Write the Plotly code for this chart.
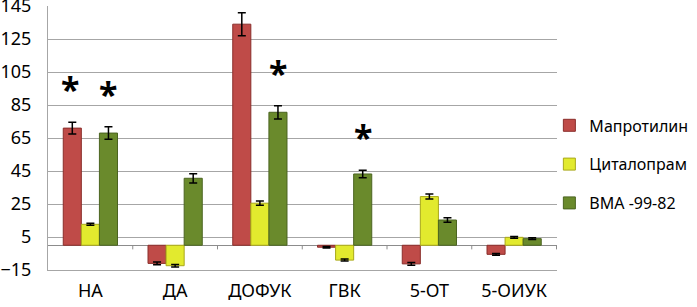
import plotly.graph_objects as go

categories = ["НА", "ДА", "ДОФУК", "ГВК", "5-ОТ", "5-ОИУК"]
series_names = ["Мапротилин", "Циталопрам", "ВМА -99-82"]
maprotilin = [71, -11, 134, -1.2, -11.3, -5.5]
maprotilin_err = [3.5, 0.8, 7, 0.4, 0.8, 0.5]
citalopram = [12.7, -12.4, 25.5, -9, 29.5, 4.8]
citalopram_err = [0.6, 0.8, 1.3, 0.6, 1.5, 0.5]
vma = [68, 40.6, 80.6, 43.2, 15.3, 4]
vma_err = [3.8, 2.8, 4, 2.3, 1.3, 0.5]
# significance marks: (category index, series index)
significant = [(0, 0), (0, 2), (2, 2), (3, 2)]
y_ticks = [-15, 5, 25, 45, 65, 85, 105, 125, 145]

colors = ["#BF4B48", "#E2EA2E", "#6A8A2C"]
edges = ["#8A2E2B", "#A9A81A", "#4B6420"]
values = [maprotilin, citalopram, vma]
errors = [maprotilin_err, citalopram_err, vma_err]

font = "Noto Sans"
fig = go.Figure()
for i, name in enumerate(series_names):
    fig.add_trace(go.Bar(
        x=categories, y=values[i], name=name,
        marker=dict(color=colors[i], line=dict(color=edges[i], width=1)),
        error_y=dict(type="data", array=errors[i], color="black", thickness=1.5, width=4),
        legendgroup=str(i),
    ))

offsets = [-20, 0, 18]
for ci, si in significant:
    top = values[si][ci] + errors[si][ci]
    fig.add_annotation(x=categories[ci], y=top, xref="x", yref="y", text="<b>*</b>",
                       showarrow=False, xshift=offsets[si], yshift=33,
                       font=dict(family=font, size=34, color="black"))

# small ticks on the zero line between categories
for k in range(len(categories)):
    fig.add_shape(type="line", xref="x", yref="y", x0=k + 0.5, x1=k + 0.5, y0=0, y1=-2.5,
                  line=dict(color="#8C8C8C", width=1))

fig.update_layout(
    width=697, height=307,
    margin=dict(l=48, r=140, t=6, b=37, autoexpand=False),
    paper_bgcolor="white", plot_bgcolor="white",
    barmode="group", bargap=0.36, bargroupgap=0,
    font=dict(family=font, size=15, color="black"),
    showlegend=True,
    legend=dict(x=0.985, xanchor="left", y=0.40, yanchor="middle",
                font=dict(family=font, size=16, color="black"),
                tracegroupgap=15, traceorder="grouped", bgcolor="rgba(0,0,0,0)",
                itemwidth=30),
)
fig.update_yaxes(range=[-15, 145.02], tickmode="array", tickvals=y_ticks,
                 showgrid=True, gridcolor="#A6A6A6", gridwidth=1,
                 showline=True, linecolor="#A6A6A6", linewidth=1,
                 zeroline=True, zerolinecolor="#8C8C8C", zerolinewidth=1,
                 ticks="", ticklabelstandoff=12, ticklabeloverflow="allow",
                 tickfont=dict(family=font, size=18, color="black"))
fig.update_xaxes(showgrid=False, showline=True, linecolor="#A6A6A6", linewidth=1,
                 ticks="", ticklabelstandoff=4,
                 tickfont=dict(family=font, size=18, color="black"))

fig.write_html("out.html", config={"displayModeBar": False},
               post_script="document.body.style.margin='0';")
